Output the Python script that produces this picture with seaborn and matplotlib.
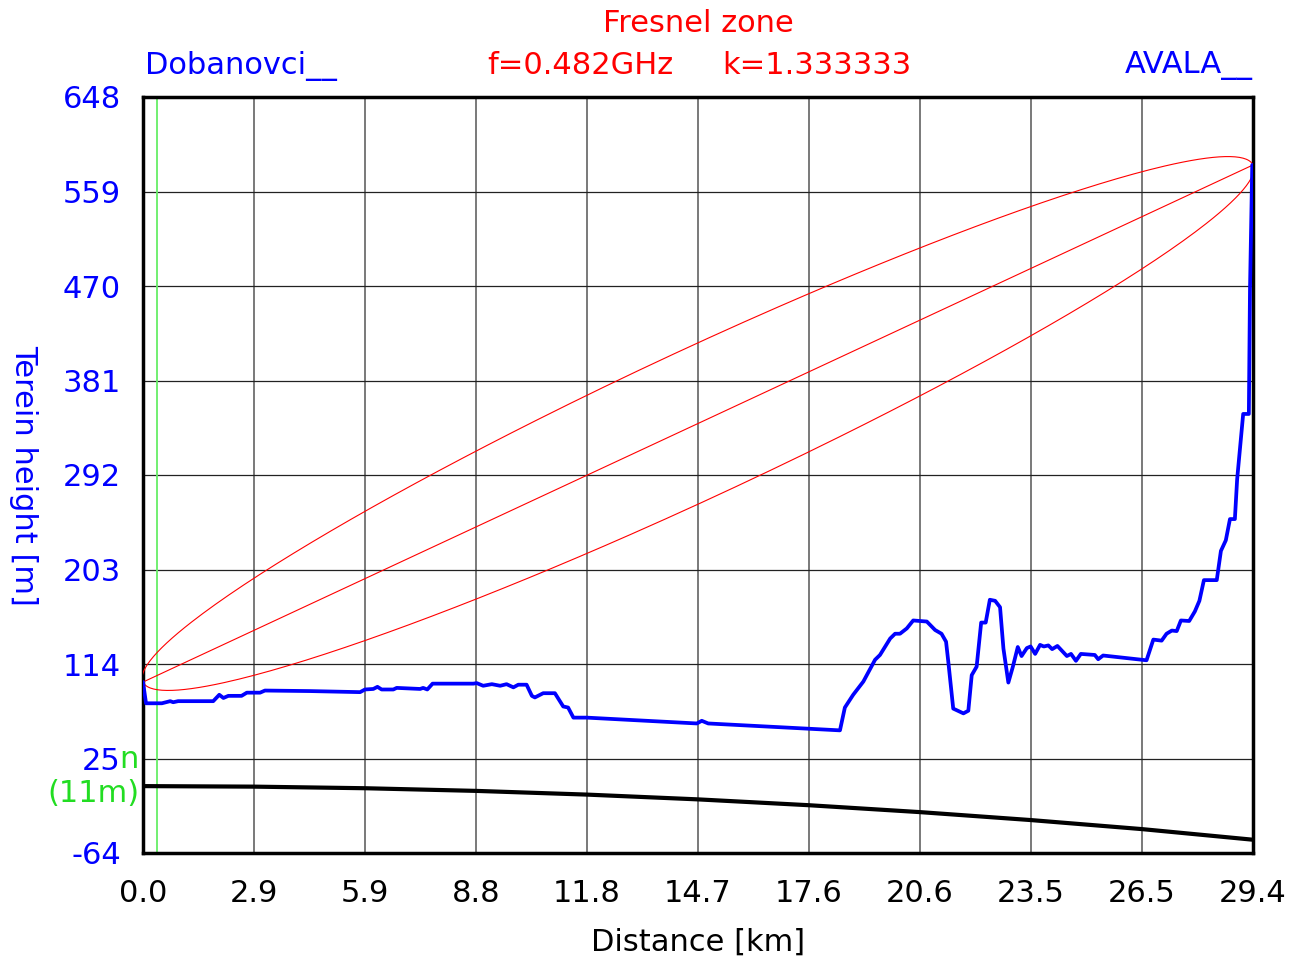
import numpy as np
import seaborn as sns
import matplotlib.pyplot as plt

# terrain profile (km, m)
dist_km = [0.00, 0.08, 0.50, 0.72, 0.80, 0.93, 1.86, 2.02, 2.13, 2.26, 2.61, 2.75, 3.10, 3.23,
           4.42, 5.75, 5.88, 6.10, 6.21, 6.32, 6.63, 6.72, 7.34, 7.42, 7.53, 7.67, 8.75, 8.84,
           9.01, 9.24, 9.46, 9.63, 9.81, 9.94, 10.16, 10.30, 10.38, 10.60, 10.91, 11.13, 11.26,
           11.40, 11.75, 14.67, 14.80, 14.97, 18.46, 18.59, 18.81, 19.08, 19.39, 19.52, 19.79,
           19.92, 20.05, 20.23, 20.40, 20.76, 20.98, 21.15, 21.27, 21.33, 21.46, 21.73, 21.86,
           21.95, 22.08, 22.20, 22.32, 22.43, 22.57, 22.70, 22.79, 22.92, 23.04, 23.17, 23.27,
           23.41, 23.51, 23.63, 23.76, 23.86, 23.98, 24.08, 24.22, 24.47, 24.58, 24.71, 24.84,
           25.21, 25.30, 25.43, 26.58, 26.76, 26.98, 27.11, 27.25, 27.38, 27.49, 27.71, 27.86,
           27.98, 28.10, 28.44, 28.55, 28.68, 28.79, 28.92, 28.98, 29.14, 29.29, 29.32, 29.38]
height_m = [97, 77, 77, 79, 78, 79, 79, 85, 82, 84, 84, 87, 87, 89,
            88.5, 87.5, 90, 90.5, 92.5, 90, 90, 91.5, 90.5, 91.5, 90, 95.5, 95.5, 96,
            93.5, 95, 93.5, 95, 92, 94.5, 94.5, 84, 82.5, 86.5, 86.5, 74, 73,
            63.5, 63.5, 58, 60.5, 58, 51.5, 73, 85, 97.5, 118, 122.5, 138,
            142.5, 142.5, 147.5, 155, 154, 146, 142.5, 135, 116, 72, 67.5, 70,
            103.5, 111.5, 153, 153, 174.5, 173.5, 167.5, 128.5, 96.5, 111.5, 130, 121.5,
            129, 130.5, 123.5, 132, 130.5, 131.5, 128, 131, 121.5, 123.5, 117, 123.5,
            122.5, 118.5, 122, 117.5, 137, 136, 142.5, 145.5, 145, 155, 154.5, 163.5,
            173.5, 193, 193, 220.5, 230.5, 250.5, 250.5, 288, 349.5, 349.5, 466, 584]

# earth curvature line read at the grid positions
curve_km = [0.0, 2.94, 5.88, 8.82, 11.76, 14.7, 17.64, 20.58, 23.52, 26.46, 29.4]
curve_m = [-1, -1.5, -3, -5.5, -9, -13.5, -19, -25.5, -33, -41.5, -51.5]

site_a, site_b = "Dobanovci__", "AVALA__"
ant_a, ant_b = 97, 584
total_km = 29.4
fresnel_r = 69
marker_km = 0.37

x_ticks = [i * 2.94 for i in range(11)]
x_labels = ["0.0", "2.9", "5.9", "8.8", "11.8", "14.7", "17.6", "20.6", "23.5", "26.5", "29.4"]
y_ticks = [-64, 25, 114, 203, 292, 381, 470, 559, 648]
y_labels = ["-64", "25", "114", "203", "292", "381", "470", "559", "648"]

sns.set_style("white")
plt.rcParams['font.family'] = ['DejaVu Sans']
FS = 22

fig = plt.figure(figsize=(13.02, 9.6), dpi=100)
ax = fig.add_axes([143 / 1302, 1 - 853 / 960, 1110 / 1302, 756 / 960])
ax.set_xlim(0, total_km)
ax.set_ylim(-64, 648)

for xv in x_ticks[1:-1]:
    ax.axvline(xv, color="#555555", lw=1.1, zorder=1)
for yv in y_ticks[1:-1]:
    ax.axhline(yv, color="#222222", lw=0.9, zorder=1)

ax.axvline(marker_km, color="#66ee66", lw=1.3, zorder=2)

# fresnel ellipse, built in screen space along the link line
p0 = ax.transData.transform((0, ant_a))
p1 = ax.transData.transform((total_km, ant_b))
c = (p0 + p1) / 2
a = np.hypot(*(p1 - p0)) / 2
b = ax.transData.transform((0, fresnel_r))[1] - ax.transData.transform((0, 0))[1]
ang = np.arctan2(p1[1] - p0[1], p1[0] - p0[0])
t = np.linspace(0, 2 * np.pi, 400)
ex = c[0] + a * np.cos(t) * np.cos(ang) - b * np.sin(t) * np.sin(ang)
ey = c[1] + a * np.cos(t) * np.sin(ang) + b * np.sin(t) * np.cos(ang)
ell = ax.transData.inverted().transform(np.column_stack([ex, ey]))
ax.plot(ell[:, 0], ell[:, 1], color="red", lw=0.8, zorder=3)
ax.plot([0, total_km], [ant_a, ant_b], color="red", lw=0.8, zorder=3)

sns.lineplot(x=curve_km, y=curve_m, ax=ax, color="black", lw=3, sort=False, estimator=None, zorder=4)
sns.lineplot(x=dist_km, y=height_m, ax=ax, color="#0000ff", lw=2.7, sort=False, estimator=None, zorder=5)

ax.set_xticks(x_ticks)
ax.set_xticklabels(x_labels, color="black")
ax.set_yticks(y_ticks)
ax.set_yticklabels(y_labels, color="#0000ff")
ax.tick_params(axis="both", length=0, labelsize=FS)
ax.tick_params(axis="x", pad=19)
ax.tick_params(axis="y", pad=16)
ax.set_xlabel("Distance [km]", fontsize=FS, color="black", labelpad=14)
ax.set_ylabel("")
for s in ax.spines.values():
    s.set_visible(True)
    s.set_color("black")
    s.set_linewidth(2.5)

fig.text(24 / 1302, 1 - 475 / 960, "Terein height [m]", color="#0000ff", fontsize=FS,
         rotation=-90, ha="center", va="center")
fig.text(698 / 1302, 1 - 23 / 960, "Fresnel zone", color="red", fontsize=FS, ha="center", va="center")
fig.text(145 / 1302, 1 - 66 / 960, site_a, color="#0000ff", fontsize=FS, ha="left", va="center")
fig.text(1253 / 1302, 1 - 66 / 960, site_b, color="#0000ff", fontsize=FS, ha="right", va="center")
fig.text(580 / 1302, 1 - 66 / 960, "f=0.482GHz", color="red", fontsize=FS, ha="center", va="center")
fig.text(817 / 1302, 1 - 66 / 960, "k=1.333333", color="red", fontsize=FS, ha="center", va="center")
fig.text(139 / 1302, 1 - 760 / 960, "n", color="#22dd22", fontsize=FS, ha="right", va="center")
fig.text(139 / 1302, 1 - 793 / 960, "(11m)", color="#22dd22", fontsize=FS, ha="right", va="center")

fig.savefig("out.png", dpi=100)
